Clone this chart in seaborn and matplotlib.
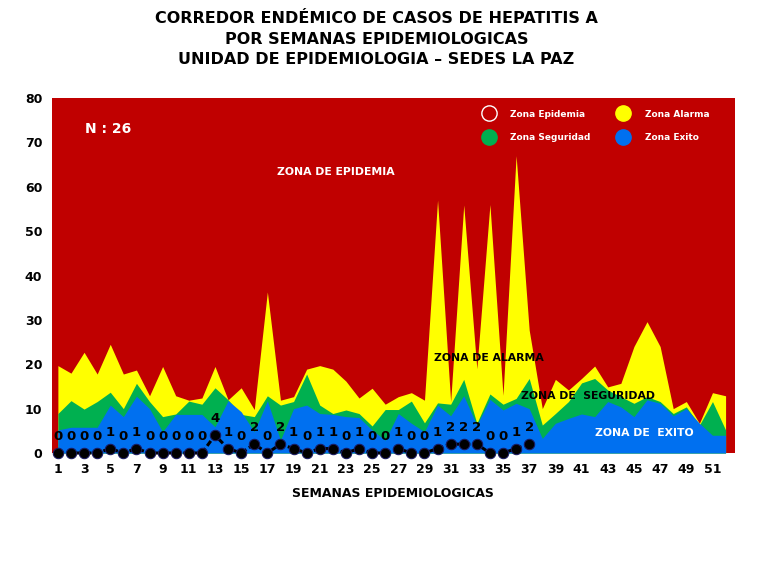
import numpy as np
import pandas as pd
import matplotlib
matplotlib.use('Agg')
import matplotlib.pyplot as plt
import seaborn as sns
from matplotlib.lines import Line2D

# semanas epidemiologicas
semanas = list(range(1, 53))

# limites de las zonas
exito = [5.2, 5.8, 5.8, 5.8, 10.8, 8.2, 12.8, 10.0, 4.8, 8.7,
         8.7, 8.7, 5.9, 11.8, 9.3, 4.8, 11.8, 2.9, 10.0, 10.8,
         8.9, 8.7, 8.2, 8.0, 5.2, 2.9, 8.9, 6.7, 4.8, 10.8,
         8.4, 12.9, 6.3, 12.1, 9.7, 11.2, 10.0, 3.3, 6.7, 7.8,
         8.8, 8.2, 11.6, 10.4, 8.2, 12.0, 11.2, 8.4, 10.0, 6.7,
         4.0, 4.0]
seguridad = [8.9, 11.8, 9.9, 11.6, 13.7, 10.0, 15.7, 11.6, 8.2, 8.8,
             11.7, 11.0, 14.7, 12.0, 8.7, 8.2, 12.9, 10.8, 11.6, 17.8,
             10.8, 8.9, 9.7, 8.9, 6.1, 9.8, 9.8, 11.7, 6.8, 11.3,
             11.0, 16.6, 6.7, 13.3, 11.0, 12.3, 16.8, 6.3, 8.9, 11.6,
             15.8, 16.8, 14.2, 12.7, 11.2, 12.7, 11.6, 8.9, 10.4, 6.3,
             11.6, 5.2]
alarma = [19.7, 18.0, 22.7, 17.8, 24.5, 17.8, 18.7, 12.9, 19.5, 12.9,
          11.9, 12.4, 19.5, 12.0, 14.7, 9.8, 36.3, 11.9, 12.7, 18.9,
          19.7, 18.9, 16.2, 12.4, 14.6, 11.0, 12.7, 13.6, 11.9, 57.0,
          11.6, 55.9, 19.0, 56.0, 13.0, 67.0, 27.7, 10.0, 16.6, 14.2,
          16.8, 19.6, 14.9, 15.7, 24.0, 29.6, 24.0, 10.0, 11.6, 6.7,
          13.6, 12.9]

# casos notificados por semana (N = 26)
semanas_casos = list(range(1, 38))
casos = [0, 0, 0, 0, 1, 0, 1, 0, 0, 0, 0, 0, 4, 1, 0, 2, 0, 2, 1, 0,
         1, 1, 0, 1, 0, 0, 1, 0, 0, 1, 2, 2, 2, 0, 0, 1, 2]

df = pd.DataFrame({'semana': semanas_casos, 'casos': casos})

sns.set_style("white")
plt.rcParams['font.family'] = ['DejaVu Sans']
plt.rcParams['text.color'] = 'black'
plt.rcParams['xtick.color'] = 'black'
plt.rcParams['ytick.color'] = 'black'
plt.rcParams['axes.labelcolor'] = 'black'

rojo = '#C00000'
amarillo = '#FFFF00'
verde = '#00B050'
azul = '#0070F0'

fig = plt.figure(figsize=(7.68, 5.76), dpi=100)
ax = fig.add_axes([0.0677, 0.2135, 0.889, 0.6164])
ax.set_facecolor(rojo)

# zonas apiladas
ax.fill_between(semanas, 0, alarma, color=amarillo, lw=0)
ax.fill_between(semanas, 0, seguridad, color=verde, lw=0)
ax.fill_between(semanas, 0, exito, color=azul, lw=0)

# linea de casos
sns.lineplot(data=df, x='semana', y='casos', ax=ax, color='black',
             linestyle=(0, (2.0, 1.0)), lw=2.2, marker='o', markersize=7.5,
             markerfacecolor='black', markeredgecolor='#1a1a60', clip_on=False,
             zorder=5)
for s, c in zip(semanas_casos, casos):
    ax.text(s, c + 3.7, str(c), ha='center', va='center', fontsize=9.5,
            fontweight='bold', color='black', zorder=6)

ax.set_xlim(0.55, 52.7)
ax.set_ylim(0, 80)
ax.set_xticks(range(1, 52, 2))
ax.set_yticks(range(0, 81, 10))
ax.tick_params(axis='both', length=0, labelsize=9, pad=7)
for lab in ax.get_xticklabels() + ax.get_yticklabels():
    lab.set_fontweight('bold')
for sp in ax.spines.values():
    sp.set_visible(False)
ax.set_xlabel('SEMANAS EPIDEMIOLOGICAS', fontsize=9, fontweight='bold', labelpad=8)
ax.set_ylabel('')

# textos de las zonas
ax.text(4.8, 73, 'N : 26', color='white', fontsize=10, fontweight='bold', ha='center', va='center')
ax.text(22.2, 63.3, 'ZONA DE EPIDEMIA', color='white', fontsize=7.8, fontweight='bold', ha='center', va='center')
ax.text(33.9, 21.4, 'ZONA DE ALARMA', color='black', fontsize=7.8, fontweight='bold', ha='center', va='center', zorder=7)
ax.text(41.5, 12.8, 'ZONA DE  SEGURIDAD', color='black', fontsize=7.8, fontweight='bold', ha='center', va='center', zorder=7)
ax.text(45.8, 4.5, 'ZONA DE  EXITO', color='white', fontsize=7.8, fontweight='bold', ha='center', va='center', zorder=7)

# leyenda
handles = [
    Line2D([], [], ls='', marker='o', markersize=11, markerfacecolor=rojo, markeredgecolor='white', markeredgewidth=1.0),
    Line2D([], [], ls='', marker='o', markersize=11, markerfacecolor=verde, markeredgecolor=verde),
    Line2D([], [], ls='', marker='o', markersize=11, markerfacecolor=amarillo, markeredgecolor=amarillo),
    Line2D([], [], ls='', marker='o', markersize=11, markerfacecolor=azul, markeredgecolor=azul),
]
labels = ['Zona Epidemia', 'Zona Seguridad', 'Zona Alarma', 'Zona Exito']
leg = ax.legend(handles, labels, ncol=2, loc='upper right', bbox_to_anchor=(0.975, 0.99),
                frameon=False, fontsize=6.5, columnspacing=2.6, handletextpad=1.4,
                labelspacing=1.6)
for t in leg.get_texts():
    t.set_color('white')
    t.set_fontweight('bold')

fig.text(0.49, 0.968, 'CORREDOR ENDÉMICO DE CASOS DE HEPATITIS A', ha='center', va='center',
         fontsize=11.5, fontweight='bold')
fig.text(0.49, 0.932, 'POR SEMANAS EPIDEMIOLOGICAS', ha='center', va='center',
         fontsize=11.5, fontweight='bold')
fig.text(0.49, 0.896, 'UNIDAD DE EPIDEMIOLOGIA – SEDES LA PAZ', ha='center', va='center',
         fontsize=11.5, fontweight='bold')

plt.savefig('out.png', dpi=100)
